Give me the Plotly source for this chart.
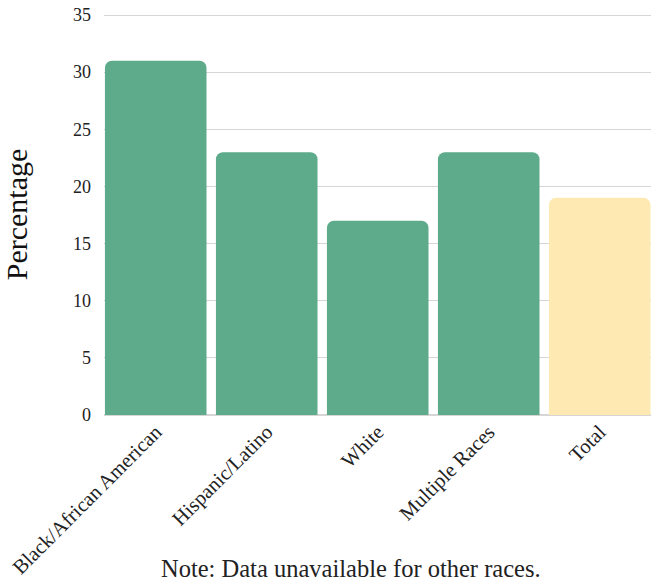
import plotly.graph_objects as go

categories = ["Black/African American", "Hispanic/Latino", "White", "Multiple Races", "Total"]
values = [31, 23, 17, 23, 19]
colors = ["#5eab8b", "#5eab8b", "#5eab8b", "#5eab8b", "#fde9b1"]
y_ticks = [0, 5, 10, 15, 20, 25, 30, 35]

FONT = "Liberation Serif, Times New Roman, serif"

fig = go.Figure(
    go.Bar(
        x=list(range(len(categories))),
        y=values,
        marker=dict(color=colors, line=dict(width=0)),
        hoverinfo="skip",
    )
)

fig.update_layout(
    width=651,
    height=582,
    margin=dict(l=104, r=0, t=14, b=167),
    paper_bgcolor="white",
    plot_bgcolor="white",
    bargap=0.085,
    barcornerradius=7,
    showlegend=False,
    font=dict(family=FONT, color="#333333"),
    annotations=[
        dict(
            text="Note: Data unavailable for other races.",
            xref="paper", yref="paper",
            x=0.452, y=-0.383,
            xanchor="center", yanchor="middle",
            showarrow=False,
            font=dict(family=FONT, size=24.5, color="#222222"),
        )
    ],
)

fig.update_xaxes(
    tickmode="array",
    tickvals=list(range(len(categories))),
    ticktext=categories,
    tickangle=-45,
    tickfont=dict(family=FONT, size=20.5, color="#222222"),
    range=[-0.466, 4.462],
    showgrid=False,
    showline=False,
    zeroline=False,
    ticks="",
)

fig.update_yaxes(
    range=[0, 35.09],
    tickmode="array",
    tickvals=y_ticks,
    tickfont=dict(family=FONT, size=18, color="#222222"),
    showgrid=True,
    gridcolor="#d6d6d6",
    gridwidth=1,
    zeroline=True,
    zerolinecolor="#d6d6d6",
    showline=False,
    ticks="",
    ticklabelstandoff=12,
    title=dict(text="Percentage", font=dict(family=FONT, size=30, color="#111111"), standoff=36),
)

fig.write_html(
    "out.html",
    config={"displayModeBar": False},
    post_script="document.body.style.margin='0';document.body.style.overflow='hidden';",
)
